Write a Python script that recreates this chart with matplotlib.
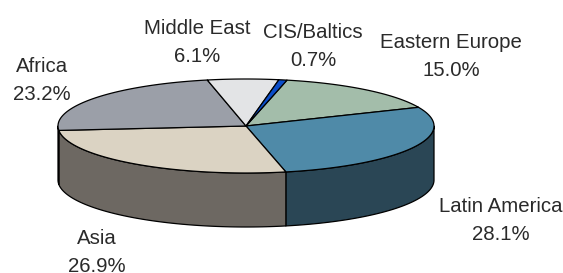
import numpy as np
import matplotlib
matplotlib.use("Agg")
import matplotlib.pyplot as plt
from matplotlib.patches import Polygon

# ---- data ----
regions = ["Eastern Europe", "Latin America", "Asia", "Africa", "Middle East", "CIS/Baltics"]
shares = [15.0, 28.1, 26.9, 23.2, 6.1, 0.7]
top_colors = ["#A3BDAA", "#4F8AA8", "#DBD3C3", "#9B9FA8", "#E3E4E6", "#0B4DC8"]
side_colors = ["#5E6E62", "#2A4655", "#6D6862", "#55585E", "#8A8B8D", "#06287A"]
label_pos = [(451, 57), (501, 220), (97, 253), (42, 81), (197, 42), (313, 47)]

# ---- layout ----
W, H = 563, 273
fig = plt.figure(figsize=(W / 100, H / 100), dpi=100)
ax = fig.add_axes([0, 0, 1, 1])
ax.set_xlim(0, W)
ax.set_ylim(H, 0)
ax.axis("off")

cx, cy, rx, ry, depth = 246, 126, 188, 47, 54
start = 77.4
lw = 0.9

def pt(t):
    r = np.radians(t)
    return cx + rx * np.cos(r), cy - ry * np.sin(r)

# angles (clockwise)
bounds = [start]
for s in shares:
    bounds.append(bounds[-1] - s * 3.6)

# side walls (visible front half: angles 180..360)
for i in range(len(shares)):
    a1, a2 = bounds[i + 1], bounds[i]  # a1 < a2
    for shift in (-720, -360, 0, 360):
        lo = max(a1 + shift, 180)
        hi = min(a2 + shift, 360)
        if hi > lo:
            ts = np.linspace(lo, hi, 80)
            top = [pt(t) for t in ts]
            bot = [(x, y + depth) for x, y in top[::-1]]
            ax.add_patch(Polygon(top + bot, closed=True, facecolor=side_colors[i],
                                 edgecolor="black", lw=lw, joinstyle="round"))

# top wedges
for i in range(len(shares)):
    a1, a2 = bounds[i + 1], bounds[i]
    ts = np.linspace(a1, a2, 120)
    poly = [(cx, cy)] + [pt(t) for t in ts]
    ax.add_patch(Polygon(poly, closed=True, facecolor=top_colors[i],
                         edgecolor="black", lw=lw, joinstyle="round"))

# labels
for name, s, (x, y) in zip(regions, shares, label_pos):
    ax.text(x, y, f"{name}\n{s:.1f}%", ha="center", va="center",
            fontsize=14.7, family="Liberation Sans", color="#2A2A2A",
            linespacing=1.6)

fig.savefig("out.png", dpi=100)
